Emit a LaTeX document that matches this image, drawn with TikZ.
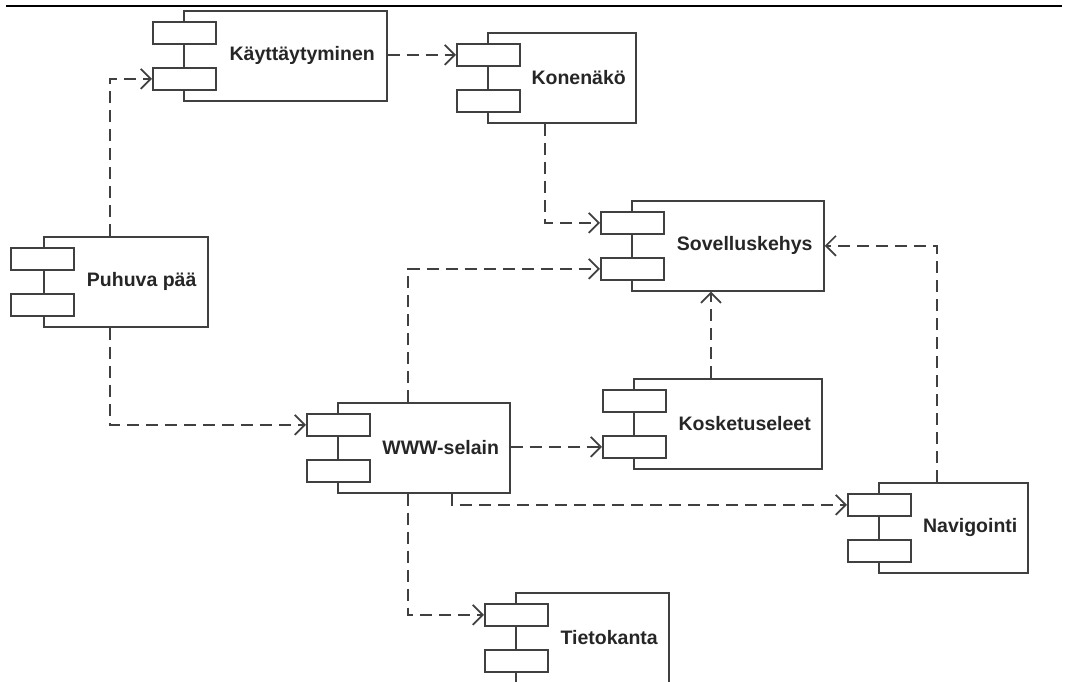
\documentclass[tikz,border=0pt]{standalone}
\usepackage{fontspec}
\setmainfont{Liberation Sans}
\usepackage{tikz}
\tikzset{
  comp_font/.style = {font=\fontsize{19.5}{23}\selectfont\bfseries, text=black!85},
  comp_line/.style = {draw=black!75, line width=1.7pt},
  dep_line/.style = {draw=black!75, line width=1.7pt, dash pattern=on 12pt off 7pt}
}
\tikzset{
  comp/.style = {comp_line, rectangle, anchor=north west, minimum height=90pt, inner sep=0},
  port/.style = {comp_line, fill=white, rectangle, minimum width=63pt, minimum height=22pt, inner sep=0},
  port_top/.style = {port, anchor=north west, xshift=-31pt, yshift=-11pt},
  port_bottom/.style = {port, anchor=south west, xshift=-31pt, yshift=11pt},
  dep/.style = {dep_line, -{Straight Barb[length=10pt, width=20pt]}}
}
\usetikzlibrary{arrows.meta, positioning, calc}

\begin{document}
\begin{tikzpicture}[x=1pt, y=-1pt]
        \useasboundingbox (0,0) rectangle (1069,681);
        \draw[line width=1.7pt] (6,6) -- (1062,6);

        % Components
        \node[comp, minimum width=203pt] at (183,10) (kt) {};
        \node[comp, minimum width=148pt] at (487,32) (kn) {};
        \node[comp, minimum width=192pt] at (631,200) (sk) {};
        \node[comp, minimum width=164pt] at (43,236) (pp) {};
        \node[comp, minimum width=188pt] at (633,378) (ke) {};
        \node[comp, minimum width=172pt] at (337,402) (ws) {};
        \node[comp, minimum width=149pt] at (878,482) (nv) {};
        \node[comp, minimum width=153pt] at (515,592) (tk) {};

        % Ports
        \node[port_top] at (kt.north west) (kt_p1) {};
        \node[port_bottom] at (kt.south west) (kt_p2) {};
        \node[port_top] at (kn.north west) (kn_p1) {};
        \node[port_bottom] at (kn.south west) (kn_p2) {};
        \node[port_top] at (sk.north west) (sk_p1) {};
        \node[port_bottom] at (sk.south west) (sk_p2) {};
        \node[port_top, xshift=-2pt] at (pp.north west) (pp_p1) {};
        \node[port_bottom, xshift=-2pt] at (pp.south west) (pp_p2) {};
        \node[port_top] at (ke.north west) (ke_p1) {};
        \node[port_bottom] at (ke.south west) (ke_p2) {};
        \node[port_top] at (ws.north west) (ws_p1) {};
        \node[port_bottom] at (ws.south west) (ws_p2) {};
        \node[port_top] at (nv.north west) (nv_p1) {};
        \node[port_bottom] at (nv.south west) (nv_p2) {};
        \node[port_top] at (tk.north west) (tk_p1) {};
        \node[port_bottom] at (tk.south west) (tk_p2) {};

        % Labels
        \node[comp_font] at ($(kt_p1.east |- kt.center)!0.5!(kt.east)$) (kt_t) {Käyttäytyminen};
        \node[comp_font] at ($(kn_p1.east |- kn.center)!0.5!(kn.east)$) (kn_t) {Konenäkö};
        \node[comp_font] at ($(sk_p1.east |- sk.center)!0.5!(sk.east)$) (sk_t) {Sovelluskehys};
        \node[comp_font] at ($(pp_p1.east |- pp.center)!0.5!(pp.east)$) (pp_t) {Puhuva pää};
        \node[comp_font] at ($(ke_p1.east |- ke.center)!0.5!(ke.east)$) (ke_t) {Kosketuseleet};
        \node[comp_font] at ($(ws_p1.east |- ws.center)!0.5!(ws.east)$) (ws_t) {WWW-selain};
        \node[comp_font] at ($(nv_p1.east |- nv.center)!0.5!(nv.east)$) (nv_t) {Navigointi};
        \node[comp_font] at ($(tk_p1.east |- tk.center)!0.5!(tk.east)$) (tk_t) {Tietokanta};

        % Dependencies
        \draw[dep] ([xshift=67pt]pp.north west) |- (kt_p2.west);
        \draw[dep] (kt.east |- kn_p1.west) -- (kn_p1.west);
        \draw[dep] ([xshift=58pt]kn.south west) |- (sk_p1.west);
        \draw[dep] ([xshift=71pt]ws.north west) |- (sk_p2.west);
        \draw[dep] ([xshift=78pt]ke.north west) -- ([xshift=78pt]ke.north west |- sk.south);
        \draw[dep] ([xshift=59pt]nv.north west) |- (sk.east);
        \draw[dep] ([xshift=67pt]pp.south west) |- (ws_p1.west);
        \draw[dep] (ws.east |- ke_p2.west) -- (ke_p2.west);
        \draw[dep] ([xshift=115pt]ws.south west) |- (nv_p1.west);
        \draw[dep] ([xshift=71pt]ws.south west) |- (tk_p1.west);
\end{tikzpicture}
\end{document}
